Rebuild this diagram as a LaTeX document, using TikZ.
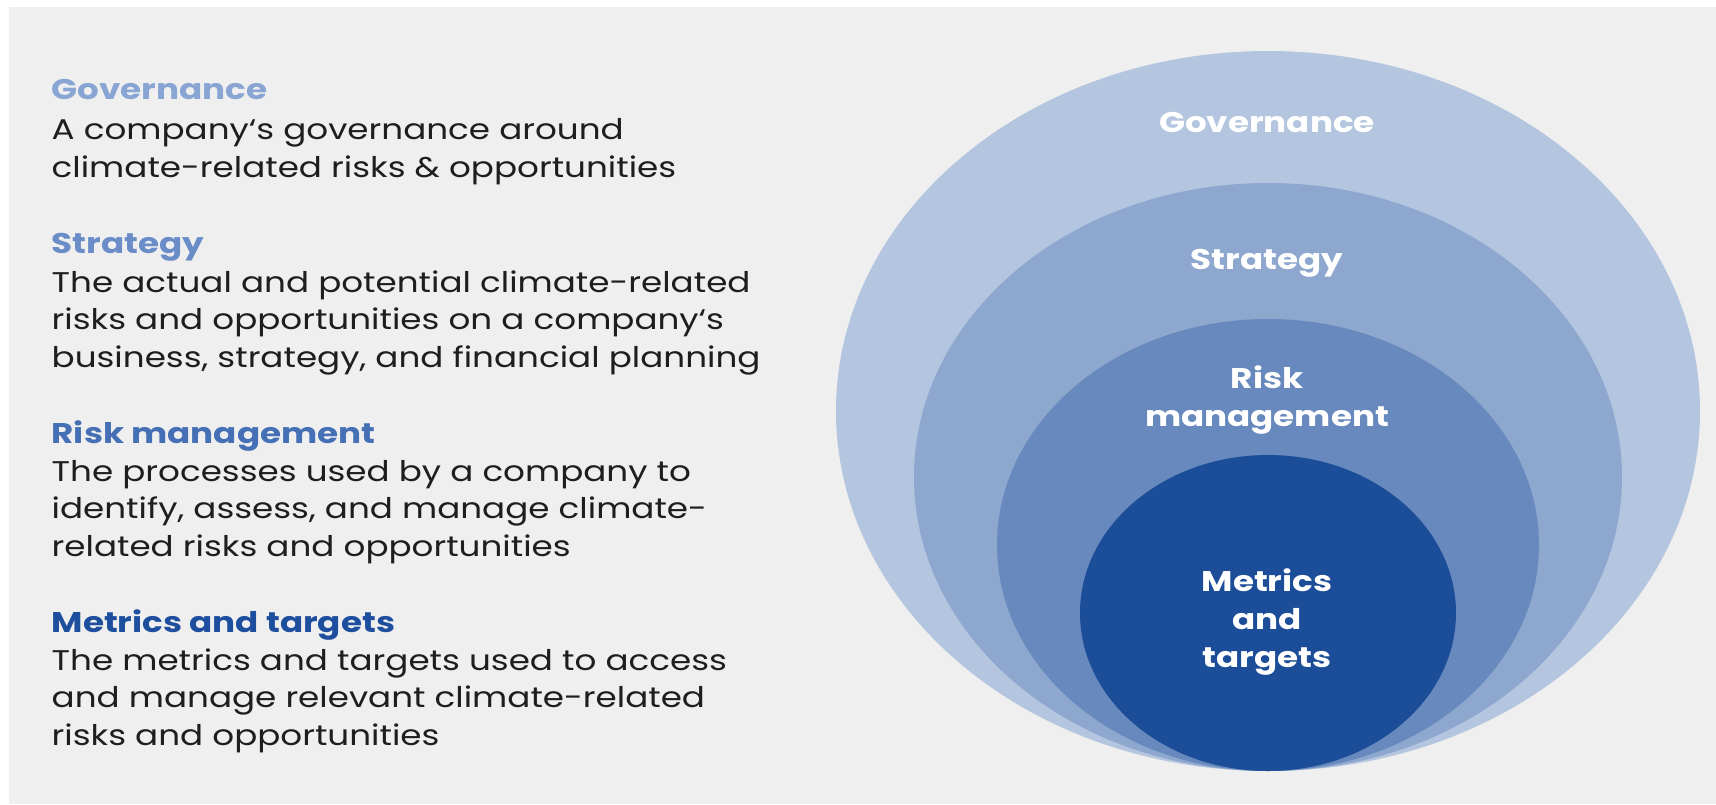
\documentclass[tikz,border=0pt]{standalone}
\usepackage{fontspec}
\setmainfont{Poppins}[FakeStretch=1.2]
\usetikzlibrary{positioning}

\definecolor{paper}{HTML}{EFEFEF}
\definecolor{bodyink}{HTML}{1E1E1E}
\definecolor{govblue}{HTML}{B3C5DF}
\definecolor{stratblue}{HTML}{8DA7CE}
\definecolor{riskblue}{HTML}{6789BD}
\definecolor{metricblue}{HTML}{1C4D99}
\definecolor{govhead}{HTML}{88A5D4}
\definecolor{strathead}{HTML}{6A8CC7}
\definecolor{riskhead}{HTML}{4570B5}
\definecolor{metrichead}{HTML}{1E4E9E}

\begin{document}
\begin{tikzpicture}[
  headtext/.style = {font=\bfseries\fontsize{8.1}{10.67}\selectfont, inner sep=0pt, anchor=base west},
  bodytext/.style = {font=\fontsize{8.1}{10.67}\selectfont, inner sep=0pt, align=left, text=bodyink},
  ringtext/.style = {font=\bfseries\fontsize{8.1}{10.8}\selectfont, text=white, align=center, inner sep=0pt}
]
  \useasboundingbox (0,0) rectangle (17.16,8.04);
  \fill[paper] (0.09,0) rectangle (17.16,7.97);

  % nested rings, all sitting on the same bottom point
  \fill[govblue]    (12.68,3.93) ellipse [x radius=4.32, y radius=3.60];
  \fill[stratblue]  (12.68,3.27) ellipse [x radius=3.54, y radius=2.94];
  \fill[riskblue]   (12.68,2.59) ellipse [x radius=2.71, y radius=2.26];
  \fill[metricblue] (12.68,1.91) ellipse [x radius=1.88, y radius=1.58];

  \node[ringtext] (govring)    at (12.67,6.81) {Governance};
  \node[ringtext] (stratring)  at (12.67,5.41) {Strategy};
  \node[ringtext] (riskring)   at (12.67,4.04) {Risk\\management};
  \node[ringtext] (metricring) at (12.67,1.82) {Metrics\\and\\targets};

  % left hand legend (a multi-line node sits on its last baseline)
  \node[headtext, text=govhead] (govtitle) at (0.51,7.05) {Governance};
  \node[bodytext, below=0.78cm of govtitle.base west, anchor=base west] (govbody)
    {A company‘s governance around\\climate-related risks \& opportunities};

  \node[headtext, text=strathead] (strattitle) at (0.51,5.51) {Strategy};
  \node[bodytext, below=1.14cm of strattitle.base west, anchor=base west] (stratbody)
    {The actual and potential climate-related\\risks and opportunities on a company‘s\\business, strategy, and financial planning};

  \node[headtext, text=riskhead] (risktitle) at (0.51,3.61) {Risk management};
  \node[bodytext, below=1.13cm of risktitle.base west, anchor=base west] (riskbody)
    {The processes used by a company to\\identify, assess, and manage climate-\\related risks and opportunities};

  \node[headtext, text=metrichead] (metrictitle) at (0.51,1.72) {Metrics and targets};
  \node[bodytext, below=1.13cm of metrictitle.base west, anchor=base west] (metricbody)
    {The metrics and targets used to access\\and manage relevant climate-related\\risks and opportunities};
\end{tikzpicture}
\end{document}
